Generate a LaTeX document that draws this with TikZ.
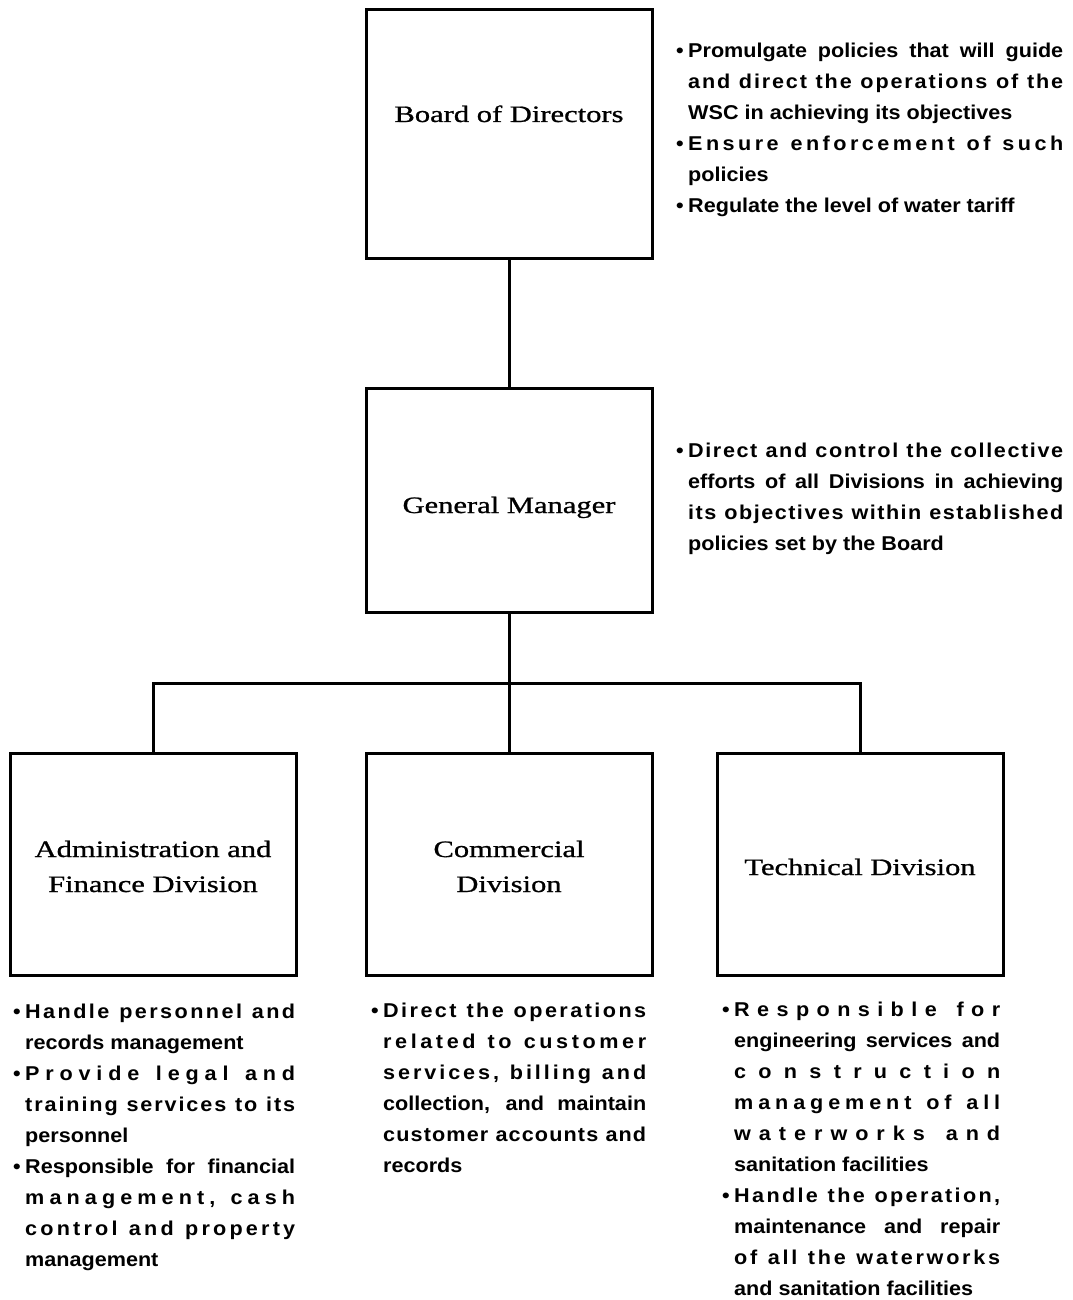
\documentclass[tikz,border=0pt]{standalone}
\usepackage{fontspec}
\setmainfont{Liberation Serif}[FakeStretch=1.3,FakeBold=0.9]
\newfontfamily\bulfont{Liberation Sans}[FakeStretch=1.08]
\makeatletter
\newdimen\W
\def\ls@stop{\ls@stop}
% letter-spaced justified line
\def\LS#1{\hbox to \W{\ls@w#1 \@nil}}
\def\ls@w#1 #2\@nil{\ls@first#1\ls@stop\if\relax\detokenize{#2}\relax\else\hskip .25em plus 2fil\relax\ls@w#2\@nil\fi}
\def\ls@first#1{#1\ls@rest}
\def\ls@rest#1{\ifx#1\ls@stop\else\hskip 0pt plus 1fil\relax#1\expandafter\ls@rest\fi}
\makeatother
% word-justified line
\def\JL#1{\hbox to \W{\spaceskip=.25em plus 1fil\relax#1}}
% natural line
\def\NL#1{\hbox{#1}}
% bullet line
\def\BU{\llap{\hbox to 12pt{\textbullet\hss}}}
\def\B#1{\hbox{\BU#1}}
% bullet block
\def\blk#1#2{\vtop{\bulfont\bfseries\fontsize{20}{31}\selectfont\W=#1\baselineskip=31pt\lineskiplimit=-100pt\lineskip=0pt #2}}
% centred label lines
\def\CL#1{\hbox to 0pt{\hss#1\hss}}
\def\lblk#1{\vtop{\fontsize{23.5}{35}\selectfont\baselineskip=35pt\lineskiplimit=-100pt\lineskip=0pt #1}}
\tikzset{
  box/.style={draw=black, line width=3pt, fill=white, inner sep=0pt, minimum width=286pt},
  conn/.style={draw=black, line width=3pt},
  lbl/.style={inner sep=0pt, anchor=base},
  txt/.style={inner sep=0pt, anchor=base west}
}
\begin{document}
\begin{tikzpicture}[x=1pt,y=-1pt]
\useasboundingbox[fill=white] (0,0) rectangle (1072,1300);
% boxes
\node[box, minimum height=248pt] (board) at (509,134) {};
\node[box, minimum height=224pt] (gm) at (509,500) {};
\node[box, minimum height=222pt] (admin) at (153,864) {};
\node[box, minimum height=222pt] (comm) at (509,864) {};
\node[box, minimum height=222pt] (tech) at (860,864) {};
% connectors
\coordinate (bus) at (gm.south |- 0,683);
\draw[conn] (board.south) -- (gm.north);
\draw[conn] (gm.south) -- (bus);
\draw[conn] (admin.north) |- (bus) -| (tech.north);
\draw[conn] (bus) -- (comm.north);
% box labels
\node[lbl] (boardlbl) at (509,122) {\lblk{\CL{Board of Directors}}};
\node[lbl] (gmlbl) at (509,513) {\lblk{\CL{General Manager}}};
\node[lbl] (adminlbl) at (153,857) {\lblk{\CL{Administration and}\CL{Finance Division}}};
\node[lbl] (commlbl) at (509,857) {\lblk{\CL{Commercial}\CL{Division}}};
\node[lbl] (techlbl) at (860,875) {\lblk{\CL{Technical Division}}};
% descriptions
\node[txt] (boardtxt) at (688,58) {\blk{375pt}{%
\B{\JL{Promulgate policies that will guide}}
\LS{and direct the operations of the}
\NL{WSC in achieving its objectives}
\B{\LS{Ensure enforcement of such}}
\NL{policies}
\B{\NL{Regulate the level of water tariff}}}};
\node[txt] (gmtxt) at (688,457) {\blk{375pt}{%
\B{\LS{Direct and control the collective}}
\JL{efforts of all Divisions in achieving}
\LS{its objectives within established}
\NL{policies set by the Board}}};
\node[txt] (admintxt) at (25,1018) {\blk{270pt}{%
\B{\LS{Handle personnel and}}
\NL{records management}
\B{\LS{Provide legal and}}
\LS{training services to its}
\NL{personnel}
\B{\JL{Responsible for financial}}
\LS{management, cash}
\LS{control and property}
\NL{management}}};
\node[txt] (commtxt) at (383,1017) {\blk{263pt}{%
\B{\LS{Direct the operations}}
\LS{related to customer}
\LS{services, billing and}
\JL{collection, and maintain}
\LS{customer accounts and}
\NL{records}}};
\node[txt] (techtxt) at (734,1016) {\blk{266pt}{%
\B{\LS{Responsible for}}
\JL{engineering services and}
\LS{construction}
\LS{management of all}
\LS{waterworks and}
\NL{sanitation facilities}
\B{\LS{Handle the operation,}}
\JL{maintenance and repair}
\LS{of all the waterworks}
\NL{and sanitation facilities}}};
\end{tikzpicture}
\end{document}
